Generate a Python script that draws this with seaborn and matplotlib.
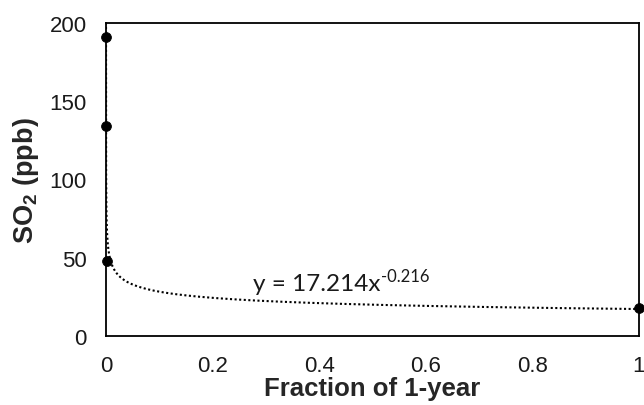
import numpy as np
import pandas as pd
import matplotlib
matplotlib.use("Agg")
from matplotlib import pyplot as plt
import seaborn as sns

# averaging times as fraction of one year, and SO2 concentration (ppb)
fraction = [5 / 525600, 1 / 8760, 1 / 365, 1.0]
so2 = [191, 134, 48, 18]

# power trend line shown on the chart
coef_a = 17.214
coef_b = -0.216

x_ticks = [0, 0.2, 0.4, 0.6, 0.8, 1]
x_tick_labels = ["0", "0.2", "0.4", "0.6", "0.8", "1"]
y_ticks = [0, 50, 100, 150, 200]

sns.set_style("white")
plt.rcParams['font.family'] = ['Liberation Sans', 'DejaVu Sans']
plt.rcParams['mathtext.fontset'] = 'custom'
plt.rcParams['mathtext.rm'] = 'Liberation Sans'
plt.rcParams['mathtext.bf'] = 'Liberation Sans:bold'

data = pd.DataFrame({"frac": fraction, "so2": so2})
xs = np.geomspace(fraction[0], 1.0, 600)
trend = pd.DataFrame({"frac": xs, "so2": coef_a * xs ** coef_b})

fig = plt.figure(figsize=(6.44, 4.06), dpi=100)
ax = fig.add_axes([0.1646, 0.170, 0.8274, 0.771])

sns.lineplot(x="frac", y="so2", data=trend, ax=ax, color="black",
             linestyle=(0, (1, 1.2)), linewidth=1.5, sort=False, zorder=2)
sns.scatterplot(x="frac", y="so2", data=data, ax=ax, color="black",
                s=50, edgecolor="black", zorder=3, clip_on=False)

# trend line equation
eq = ax.text(0.276, 29.4, "y = 17.214x", fontsize=17.5, va="baseline",
             family=['Lato', 'DejaVu Sans'], color="#1a1a1a")
ax.annotate("-0.216", xy=(1, 1), xycoords=eq, xytext=(0.5, 3.5),
            textcoords="offset points", va="top", ha="left", fontsize=12,
            family=['Lato', 'DejaVu Sans'], color="#1a1a1a")

ax.set_xlim(0, 1)
ax.set_ylim(0, 200)
ax.set_xticks(x_ticks)
ax.set_xticklabels(x_tick_labels)
ax.set_yticks(y_ticks)
ax.tick_params(axis="both", length=0, labelsize=16, pad=14, colors="#1a1a1a")

ax.set_xlabel("Fraction of 1-year", fontsize=18.5, fontweight="bold", labelpad=0)
ax.set_ylabel(r"SO$_\mathbf{2}$ (ppb)", fontsize=19.5, fontweight="bold", labelpad=6)

for sp in ax.spines.values():
    sp.set_visible(True)
    sp.set_color("black")
    sp.set_linewidth(1.3)

fig.savefig("out.png", dpi=100)
